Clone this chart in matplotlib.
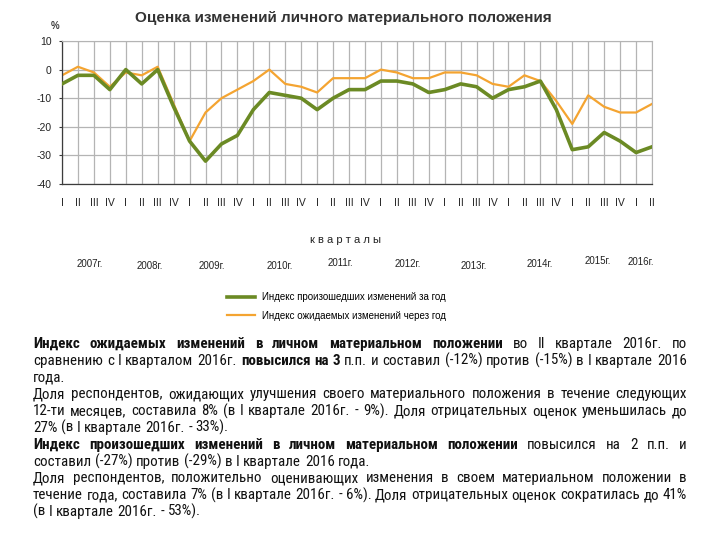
import matplotlib
matplotlib.use("Agg")
import matplotlib.pyplot as plt
from matplotlib.lines import Line2D

plt.rcParams["axes.unicode_minus"] = False

# quarters 2007 I .. 2016 II
quarter_labels = ["I", "II", "III", "IV"] * 9 + ["I", "II"]
year_labels = ["2007г.", "2008г.", "2009г.", "2010г.", "2011г.",
               "2012г.", "2013г.", "2014г.", "2015г.", "2016г."]

# Индекс произошедших изменений за год
occurred = [-5, -2, -2, -7, 0, -5, 0, -13,
            -25, -32, -26, -23, -14, -8, -9, -10,
            -14, -10, -7, -7, -4, -4, -5, -8,
            -7, -5, -6, -10, -7, -6, -4, -14,
            -28, -27, -22, -25, -29, -27]
# Индекс ожидаемых изменений через год
expected = [-2, 1, -1, -6, -1, -2, 1, -12,
            -25, -15, -10, -7, -4, 0, -5, -6,
            -8, -3, -3, -3, 0, -1, -3, -3,
            -1, -1, -2, -5, -6, -2, -4, -11,
            -19, -9, -13, -15, -15, -12]

series_names = ["Индекс произошедших изменений за год",
                "Индекс ожидаемых изменений через год"]

# paragraph lines: (segments, justified)
text_lines = [
    ([("Индекс ожидаемых изменений в личном материальном положении", True),
      ("во II квартале 2016г. по", False)], True),
    ([("сравнению с I кварталом 2016г.", False), ("повысился на 3", True),
      ("п.п. и составил (-12%) против (-15%) в I квартале 2016", False)], True),
    ([("года.", False)], False),
    ([("Доля респондентов, ожидающих улучшения своего материального положения в течение следующих", False)], True),
    ([("12-ти месяцев, составила 8% (в I квартале 2016г. - 9%). Доля отрицательных оценок уменьшилась до", False)], True),
    ([("27% (в I квартале 2016г. - 33%).", False)], False),
    ([("Индекс произошедших изменений в личном материальном положении", True),
      ("повысился на 2 п.п. и", False)], True),
    ([("составил (-27%) против (-29%) в I квартале 2016 года.", False)], False),
    ([("Доля респондентов, положительно оценивающих изменения в своем материальном положении в", False)], True),
    ([("течение года, составила 7% (в I квартале 2016г. - 6%). Доля отрицательных оценок сократилась до 41%", False)], True),
    ([("(в I квартале 2016г. - 53%).", False)], False),
]

W, H = 720, 540
GREEN = "#6b8a24"
ORANGE = "#f4a431"
GRID = "#b4b4b4"
DARK = "#3c3c3c"

BODY_FONT = ["Roboto Condensed", "Liberation Sans"]
CHART_FONT = ["Liberation Sans"]


def px(x, y):
    return x / W, 1 - y / H


fig = plt.figure(figsize=(7.2, 5.4), dpi=100)
fig.patch.set_facecolor("white")

ax = fig.add_axes([62 / W, 1 - 184 / H, 590 / W, 143 / H])
x = list(range(len(quarter_labels)))
ax.plot(x, occurred, color=GREEN, lw=2.6, solid_joinstyle="round", zorder=3)
ax.plot(x, expected, color=ORANGE, lw=1.6, solid_joinstyle="round", zorder=2)
ax.set_xlim(0, len(x) - 1)
ax.set_ylim(-40, 10)
ax.set_yticks(range(-40, 11, 10))
ax.set_xticks(x)
ax.set_xticklabels(quarter_labels)
ax.grid(True, color=GRID, lw=0.9)
ax.set_axisbelow(True)
for side in ["top", "right"]:
    ax.spines[side].set_color(GRID)
for side in ["left", "bottom"]:
    ax.spines[side].set_color(DARK)
    ax.spines[side].set_linewidth(0.9)
ax.tick_params(axis="y", direction="out", length=2.5, color=DARK, pad=5,
               labelsize=7.5, labelcolor="#222222")
ax.tick_params(axis="x", length=0, pad=10, labelsize=7.5, labelcolor="#222222")
for lab in ax.get_xticklabels() + ax.get_yticklabels():
    lab.set_family(CHART_FONT)

fig.text(*px(343, 18), "Оценка изменений личного материального положения",
         ha="center", va="center", fontsize=11, fontweight="bold",
         color="#333333", family=CHART_FONT)
fig.text(*px(55, 26), "%", ha="center", va="center", fontsize=7,
         fontweight="bold", color=DARK, family=CHART_FONT)
fig.text(*px(345, 240), " ".join("кварталы"), ha="center", va="center",
         fontsize=8, color="#222222", family=CHART_FONT)

year_pos = [(90, 264), (150, 266), (212, 266), (280, 266), (340, 263),
            (408, 264), (474, 266), (540, 264), (598, 261), (641, 262)]
for (yx, yy), lab in zip(year_pos, year_labels):
    fig.text(*px(yx, yy), lab, ha="center", va="center", fontsize=7,
             color="#222222", family=CHART_FONT)

handles = [Line2D([], [], color=GREEN, lw=2.6), Line2D([], [], color=ORANGE, lw=1.6)]
fig.legend(handles, series_names, loc="center left",
           bbox_to_anchor=px(222, 306.5), frameon=False, borderpad=0,
           handlelength=2.9, handletextpad=0.7, labelspacing=0.85,
           prop={"family": CHART_FONT, "size": 7})

# paragraph text, justified by hand
renderer = fig.canvas.get_renderer()
TX0, TX1 = 33, 687
BASE0, LSTEP = 348, 16.8


def text_width(s, bold, size):
    t = fig.text(0, 0, s, fontsize=size, family=BODY_FONT,
                 fontweight="bold" if bold else "normal")
    w = t.get_window_extent(renderer).width
    t.remove()
    return w


# scale the body size so the "составил ... года." line is as wide as in the picture
FS = 10.0 * 335 / text_width(text_lines[7][0][0][0], False, 10.0)
space_w = text_width("a a", False, FS) - text_width("aa", False, FS)

for i, (segments, justified) in enumerate(text_lines):
    words = []
    for seg, bold in segments:
        for w in seg.split(" "):
            if w:
                words.append((w, bold))
    widths = [text_width(w, b, FS) for w, b in words]
    if justified and len(words) > 1:
        gap = (TX1 - TX0 - sum(widths)) / (len(words) - 1)
    else:
        gap = space_w
    cx = TX0
    y = BASE0 + i * LSTEP
    for (w, b), ww in zip(words, widths):
        fig.text(*px(cx, y), w, ha="left", va="baseline", fontsize=FS,
                 family=BODY_FONT, fontweight="bold" if b else "normal",
                 color="#111111")
        cx += ww + gap

fig.savefig("out.png", dpi=100)
